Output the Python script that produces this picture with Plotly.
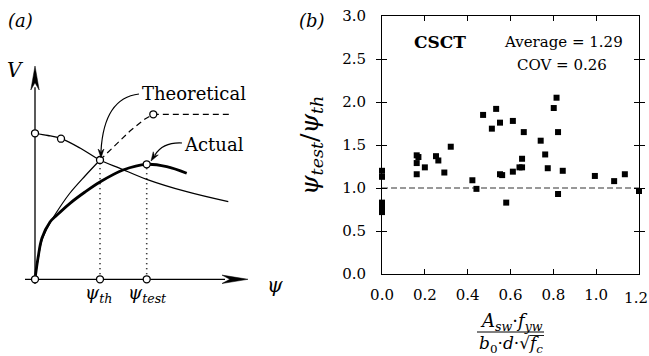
import plotly.graph_objects as go
import math

# ---------------- Panel (b) data ----------------
ratio_x = [0.0, 0.0, 0.0, 0.0, 0.0,
           0.162, 0.17, 0.162, 0.162, 0.20, 0.252, 0.263, 0.291, 0.321,
           0.422, 0.441, 0.472, 0.513, 0.533, 0.551, 0.551, 0.561, 0.58,
           0.611, 0.611, 0.642, 0.654, 0.654, 0.662, 0.741, 0.762, 0.774,
           0.802, 0.815, 0.822, 0.822, 0.844, 0.994, 1.084, 1.134, 1.2]
ratio_y = [1.13, 1.20, 0.72, 0.77, 0.83,
           1.38, 1.36, 1.29, 1.16, 1.24, 1.37, 1.32, 1.18, 1.48,
           1.09, 0.99, 1.85, 1.69, 1.92, 1.76, 1.16, 1.15, 0.83,
           1.78, 1.19, 1.24, 1.24, 1.34, 1.65, 1.55, 1.39, 1.23,
           1.93, 2.05, 1.65, 0.93, 1.20, 1.14, 1.08, 1.16, 0.965]
x_ticks = [0.0, 0.2, 0.4, 0.6, 0.8, 1.0, 1.2]
x_tick_labels = ["0.0", "0.2", "0.4", "0.6", "0.8", "1.0", "1.2"]
y_ticks = [0.0, 0.5, 1.0, 1.5, 2.0, 2.5, 3.0]
ref_line = [1.0, 1.0]
stats_text = ["<b>CSCT</b>", "Average = 1.29", "COV = 0.26"]

# ---------------- Panel (a) schematic (diagram units psi, V) ----------------
crit_psi = [0, 1.3, 2.6, 4.5, 6.5, 8.5, 11.17, 15.17, 19.33]
crit_V = [14.6, 14.38, 14.06, 13.13, 11.93, 11.1, 10.0, 8.76, 7.76]
theo_psi = [0, 0.3, 0.7, 1.5, 2.5, 3.5, 5.0, 6.5]
theo_V = [0, 1.93, 3.93, 5.63, 7.23, 8.63, 10.33, 11.93]
theo_dash_psi = [6.5, 8.0, 9.5, 11.0, 11.83, 19.5]
theo_dash_V = [11.93, 13.43, 14.83, 16.03, 16.5, 16.5]
act_psi = [0, 0.3, 0.7, 1.5, 2.2, 3.5, 5.0, 6.5, 8.8, 11.17, 13.17, 15.17]
act_V = [0, 2.13, 4.13, 5.73, 6.43, 7.6, 8.73, 9.73, 10.93, 11.5, 11.26, 10.6]
node_psi = [0, 2.6, 6.5, 11.83, 11.17, 0, 6.5, 11.17]
node_V = [14.6, 14.06, 11.93, 16.5, 11.5, 0, 0, 0]
psi_th = 6.5
psi_test = 11.17

FONT = "DejaVu Serif"

fig = go.Figure()

# ---------- panel (a) traces ----------
fig.add_trace(go.Scatter(x=crit_psi, y=crit_V, mode="lines", line=dict(color="black", width=1.3, shape="spline"),
                         xaxis="x2", yaxis="y2", hoverinfo="skip"))
fig.add_trace(go.Scatter(x=theo_psi, y=theo_V, mode="lines", line=dict(color="black", width=1.2, shape="spline"),
                         xaxis="x2", yaxis="y2", hoverinfo="skip"))
fig.add_trace(go.Scatter(x=theo_dash_psi, y=theo_dash_V, mode="lines",
                         line=dict(color="black", width=1.2, dash="6px,4px"),
                         xaxis="x2", yaxis="y2", hoverinfo="skip"))
fig.add_trace(go.Scatter(x=act_psi, y=act_V, mode="lines", line=dict(color="black", width=2.8, shape="spline"),
                         xaxis="x2", yaxis="y2", hoverinfo="skip"))
for p, v in [(psi_th, node_V[2]), (psi_test, node_V[4])]:
    fig.add_trace(go.Scatter(x=[p, p], y=[0, v], mode="lines",
                             line=dict(color="black", width=1.6, dash="1px,4px"),
                             xaxis="x2", yaxis="y2", hoverinfo="skip"))

# axes lines of the diagram
fig.add_trace(go.Scatter(x=[0, 0], y=[-0.47, 19.2], mode="lines", line=dict(color="black", width=1.3),
                         xaxis="x2", yaxis="y2", hoverinfo="skip"))
fig.add_trace(go.Scatter(x=[-1.0, 19.0], y=[0, 0], mode="lines", line=dict(color="black", width=1.3),
                         xaxis="x2", yaxis="y2", hoverinfo="skip"))

fig.add_trace(go.Scatter(x=node_psi, y=node_V, mode="markers",
                         marker=dict(symbol="circle", size=7, color="white", line=dict(color="black", width=1.3)),
                         xaxis="x2", yaxis="y2", cliponaxis=False, hoverinfo="skip"))

# ---------- panel (b) traces ----------
fig.add_trace(go.Scatter(x=[0, 1.2], y=ref_line, mode="lines",
                         line=dict(color="#777777", width=1.3, dash="6px,3px"), hoverinfo="skip"))
fig.add_trace(go.Scatter(x=ratio_x, y=ratio_y, mode="markers",
                         marker=dict(symbol="square", size=6, color="black"), cliponaxis=False))
# helper (invisible) trace so the overlaying axis carrying the last tick label is drawn
fig.add_trace(go.Scatter(x=[x_ticks[-1]], y=ref_line[:1], mode="markers", xaxis="x3", yaxis="y",
                         marker=dict(size=1, opacity=0), hoverinfo="skip"))

# ---------- shapes: arrowheads and curved arrows (diagram units) ----------
def conv(px, py):
    return ((px - 35) / 10.0, (279.3 - py) / 10.0)

def head(tip, frm, length=8, half=3):
    dx, dy = tip[0] - frm[0], tip[1] - frm[1]
    n = math.hypot(dx, dy)
    ux, uy = dx / n, dy / n
    bx, by = tip[0] - ux * length, tip[1] - uy * length
    px_, py_ = -uy * half, ux * half
    nx, ny = tip[0] - ux * length * 0.7, tip[1] - uy * length * 0.7
    pts = [tip, (bx + px_, by + py_), (nx, ny), (bx - px_, by - py_)]
    pts = [conv(*q) for q in pts]
    return "M " + " L ".join(f"{a:.3f},{b:.3f}" for a, b in pts) + " Z"

shapes = []
shapes.append(dict(type="path", path=head((35, 66), (35, 90), length=24, half=4.2), xref="x2", yref="y2",
                   fillcolor="black", line=dict(color="black", width=0.5)))
shapes.append(dict(type="path", path=head((248, 279.3), (222, 279.3), length=26, half=4.2), xref="x2", yref="y2",
                   fillcolor="black", line=dict(color="black", width=0.5)))

def qpath(p0, c, p1):
    a, b, d = conv(*p0), conv(*c), conv(*p1)
    return f"M {a[0]:.3f},{a[1]:.3f} Q {b[0]:.3f},{b[1]:.3f} {d[0]:.3f},{d[1]:.3f}"

shapes.append(dict(type="path", path=qpath((139, 94), (104, 98), (101, 151)), xref="x2", yref="y2",
                   line=dict(color="black", width=1.2)))
shapes.append(dict(type="path", path=head((101, 158), (101, 148), length=9, half=3), xref="x2", yref="y2",
                   fillcolor="black", line=dict(color="black", width=0.5)))
shapes.append(dict(type="path", path=qpath((182, 143), (163, 142), (155, 155)), xref="x2", yref="y2",
                   line=dict(color="black", width=1.2)))
shapes.append(dict(type="path", path=head((151, 161), (156, 153), length=9, half=3), xref="x2", yref="y2",
                   fillcolor="black", line=dict(color="black", width=0.5)))

W, H = 649.0, 356.0
shapes.append(dict(type="line", xref="paper", yref="paper", x0=477 / W, x1=544 / W, y0=1 - 332 / H, y1=1 - 332 / H,
                   line=dict(color="black", width=1)))
shapes.append(dict(type="line", xref="paper", yref="paper", x0=530 / W, x1=544 / W, y0=1 - 335.5 / H, y1=1 - 335.5 / H,
                   line=dict(color="black", width=0.9)))

ann = []
def t(text, x, y, size=18, xanchor="center", angle=0):
    ann.append(dict(text=text, x=x, y=y, xref="paper", yref="paper", showarrow=False, xanchor=xanchor,
                    yanchor="middle", textangle=angle, font=dict(family=FONT, size=size, color="black")))

t("<i>(a)</i>", 20 / W, 1 - 20 / H, size=18)
t("<i>(b)</i>", 312 / W, 1 - 20 / H, size=18)
t("<i>V</i>", 15 / W, 1 - 70 / H, size=20)
t("<i>ψ</i>", 275 / W, 1 - 285 / H, size=20)
t("<i>ψ<sub>th</sub></i>", 98 / W, 1 - 294 / H, size=18)
t("<i>ψ<sub>test</sub></i>", 147 / W, 1 - 294 / H, size=18)
t("Theoretical", 194 / W, 1 - 94 / H, size=18)
t("Actual", 214 / W, 1 - 145 / H, size=18)
t(stats_text[0], 440 / W, 1 - 42 / H, size=17)
t(stats_text[1], 563 / W, 1 - 42 / H, size=15)
t(stats_text[2], 562 / W, 1 - 65 / H, size=15)
t("<i>A<sub>sw</sub></i>·<i>f<sub>yw</sub></i>", 511 / W, 1 - 322 / H, size=18)
t("<i>b</i><sub>0</sub>·<i>d</i>·√<i>f<sub>c</sub></i>", 511 / W, 1 - 344 / H, size=17)
t("<i>ψ<sub>test</sub></i>/<i>ψ<sub>th</sub></i>", 311 / W, 1 - 146 / H, size=25, angle=-90)

main_labels = x_tick_labels[:-1] + [""]
x_dom = [382 / W, 639 / W]
x_rng = [-0.0001, 1.2001]

fig.update_layout(
    width=649, height=356, margin=dict(l=0, r=0, t=0, b=0),
    paper_bgcolor="white", plot_bgcolor="white", showlegend=False,
    font=dict(family=FONT, size=15, color="black"),
    shapes=shapes, annotations=ann,
    xaxis=dict(domain=x_dom, range=x_rng, tickvals=x_ticks, ticktext=main_labels,
               showgrid=False, zeroline=False, showline=True, linecolor="black", linewidth=1,
               mirror="allticks", ticks="inside", ticklen=5, tickcolor="black", automargin=False,
               ticklabelstandoff=7, tickfont=dict(family=FONT, size=15)),
    xaxis3=dict(domain=x_dom, range=x_rng, overlaying="x", anchor="y", side="bottom",
                tickmode="array", tickvals=[x_ticks[-1]], ticktext=[x_tick_labels[-1]],
                showgrid=False, zeroline=False, showline=False, ticks="", automargin=False,
                ticklabelposition="outside left", ticklabelshift=9, ticklabelstandoff=13,
                ticklabeloverflow="allow", tickfont=dict(family=FONT, size=15)),
    yaxis=dict(domain=[1 - 274 / H, 1 - 16 / H], range=[0, 3.0001], tickvals=y_ticks, tickformat=".1f",
               showgrid=False, zeroline=False, showline=True, linecolor="black", linewidth=1,
               mirror="allticks", ticks="inside", ticklen=5, tickcolor="black", automargin=False,
               ticklabeloverflow="allow", ticklabelstandoff=12,
               tickfont=dict(family=FONT, size=15)),
    xaxis2=dict(domain=[0, 0.5], range=[-3.5, 28.95], visible=False, anchor="y2"),
    yaxis2=dict(domain=[0, 1], range=[-7.67, 27.93], visible=False, anchor="x2"),
)

fig.write_html("out.html")
